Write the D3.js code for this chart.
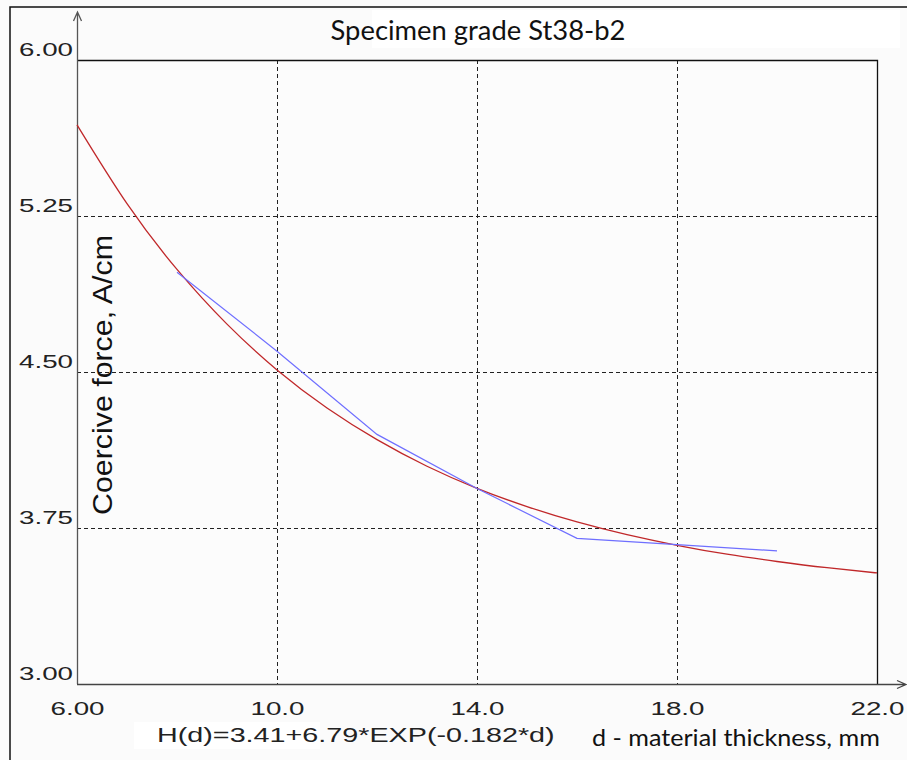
<!DOCTYPE html>
<html>
<head>
<meta charset="utf-8">
<script src="https://cdn.jsdelivr.net/npm/d3@7"></script>
<style>
  body { margin: 0; background: #fbfbfb; }
  svg { display: block; }
</style>
</head>
<body>
<svg width="907" height="760"></svg>
<script>
// axis ticks
const xTicks = [6, 10, 14, 18, 22];
const xTickLabels = ['6.00', '10.0', '14.0', '18.0', '22.0'];
const yTicks = [3.00, 3.75, 4.50, 5.25, 6.00];
const yTickLabels = ['3.00', '3.75', '4.50', '5.25', '6.00'];

// measured points (blue)
const measuredD = [8, 10, 12, 14, 16, 18, 20];
const measuredH = [4.98, 4.60, 4.20, 3.94, 3.70, 3.67, 3.64];

// fitted curve (red)
const fitD = [6, 7, 8, 9, 10, 11, 12, 13, 14, 15, 16, 17, 18, 19, 20, 21, 22];
const fitH = [5.688, 5.309, 4.993, 4.730, 4.510, 4.327, 4.175, 4.047, 3.941, 3.853,
    3.779, 3.718, 3.667, 3.624, 3.589, 3.559, 3.534];

const title = 'Specimen grade St38-b2';
const yTitle = 'Coercive force, A/cm';
const xTitle = 'd - material thickness, mm';
const formula = 'H(d)=3.41+6.79*EXP(-0.182*d)';

const pLeft = 77, pRight = 877, pTop = 60, pBottom = 684;

const svg = d3.select('svg');

// the source picture has its text stretched sideways: factor to reach a width
function stretch(sel, w) {
    const len = sel.node().getComputedTextLength();
    return w / len;
}

// ---------------- scales ----------------
const x = d3.scaleLinear().domain([6, 22]).range([pLeft, pRight]);
const y = d3.scaleLinear().domain([3, 6]).range([pBottom, pTop]);

// outer border
svg.append('path')
    .attr('d', `M10,760 V7 H907`)
    .attr('fill', 'none')
    .attr('stroke', '#111')
    .attr('stroke-width', 1.5);

// plot background
svg.append('rect')
    .attr('x', pLeft).attr('y', pTop)
    .attr('width', pRight - pLeft).attr('height', pBottom - pTop)
    .attr('fill', '#fcfcfc');

// white boxes behind the texts
svg.append('rect').attr('x', 372).attr('y', 10).attr('width', 528).attr('height', 38).attr('fill', '#fff');
svg.append('rect').attr('x', 134).attr('y', 722).attr('width', 186).attr('height', 27).attr('fill', '#fff');

// ---------------- grid ----------------
const grid = svg.append('g')
    .attr('stroke', '#222')
    .attr('stroke-width', 1)
    .attr('stroke-dasharray', '4,3');

grid.selectAll('line.v')
    .data(xTicks.slice(1, -1))
    .enter().append('line')
    .attr('class', 'v')
    .attr('x1', d => x(d) + 0.5).attr('x2', d => x(d) + 0.5)
    .attr('y1', pTop).attr('y2', pBottom);

grid.selectAll('line.h')
    .data(yTicks.slice(1, -1))
    .enter().append('line')
    .attr('class', 'h')
    .attr('x1', pLeft).attr('x2', pRight)
    .attr('y1', d => y(d) + 0.5).attr('y2', d => y(d) + 0.5);

// frame top + right
svg.append('path')
    .attr('d', `M${pLeft},${pTop + 0.5} H${pRight + 0.5} V${pBottom}`)
    .attr('fill', 'none')
    .attr('stroke', '#111')
    .attr('stroke-width', 1.3);

// ---------------- axes ----------------
const tickFont = 'Liberation Sans, Arial, sans-serif';

const yAxis = svg.append('g')
    .attr('transform', `translate(${pLeft}, 0)`)
    .call(d3.axisLeft(y).tickValues(yTicks).tickSize(0).tickPadding(3)
        .tickFormat((d, i) => yTickLabels[i]));
yAxis.select('.domain').remove();
yAxis.selectAll('text')
    .attr('dy', -5)
    .attr('font-family', tickFont)
    .attr('font-size', 18)
    .attr('fill', '#222')
    .each(function () {
        const s = d3.select(this);
        const k = stretch(s, 54);
        s.attr('x', -4 / k).attr('transform', `scale(${k},1)`);
    });

const xAxis = svg.append('g')
    .attr('transform', `translate(0, ${pBottom})`)
    .call(d3.axisBottom(x).tickValues(xTicks).tickSize(0).tickPadding(0)
        .tickFormat((d, i) => xTickLabels[i]));
xAxis.select('.domain').remove();
xAxis.selectAll('text')
    .attr('dy', 0)
    .attr('y', 31)
    .attr('font-family', tickFont)
    .attr('font-size', 18)
    .attr('fill', '#222')
    .each(function () {
        const s = d3.select(this);
        s.attr('transform', `scale(${stretch(s, 54)},1)`);
    });

// axis lines with arrows
svg.append('path')
    .attr('d', `M${pLeft + 0.5},${pBottom} V12 M${pLeft - 3.5},21 L${pLeft + 0.5},12 L${pLeft + 4.5},21`)
    .attr('fill', 'none')
    .attr('stroke', '#555')
    .attr('stroke-width', 1.3);
svg.append('path')
    .attr('d', `M${pLeft},${pBottom + 0.5} H906 M897,${pBottom - 3.5} L906,${pBottom + 0.5} L897,${pBottom + 4.5}`)
    .attr('fill', 'none')
    .attr('stroke', '#444')
    .attr('stroke-width', 1.3);

// ---------------- lines ----------------
const fitLine = d3.line()
    .x((d, i) => x(fitD[i]))
    .y(d => y(d))
    .curve(d3.curveNatural);

svg.append('path')
    .datum(fitH)
    .attr('d', fitLine)
    .attr('fill', 'none')
    .attr('stroke', '#c0282a')
    .attr('stroke-width', 1.3);

const measLine = d3.line()
    .x((d, i) => x(measuredD[i]))
    .y(d => y(d));

svg.append('path')
    .datum(measuredH)
    .attr('d', measLine)
    .attr('fill', 'none')
    .attr('stroke', '#6f6fff')
    .attr('stroke-width', 1.2);

// ---------------- texts ----------------
function label(str, x0, y0, w, font, size, anchor, rot) {
    const g = svg.append('g')
        .attr('transform', `translate(${x0}, ${y0})` + (rot ? ` rotate(${rot})` : ''));
    const s = g.append('text')
        .attr('text-anchor', anchor)
        .attr('font-family', font)
        .attr('font-size', size)
        .attr('fill', '#111')
        .text(str);
    s.attr('transform', `scale(${stretch(s, w)},1)`);
    return s;
}

label(title, 478, 40, 295, 'Lato, Open Sans, sans-serif', 27, 'middle');
label(yTitle, 112, 375, 280, 'Liberation Sans, Arial, sans-serif', 27, 'middle', -90);
label(formula, 157, 742, 398, 'Liberation Sans, Arial, sans-serif', 21, 'start').attr('fill', '#222');
label(xTitle, 592, 746, 288, 'Lato, Open Sans, sans-serif', 24, 'start');
</script>
</body>
</html>
